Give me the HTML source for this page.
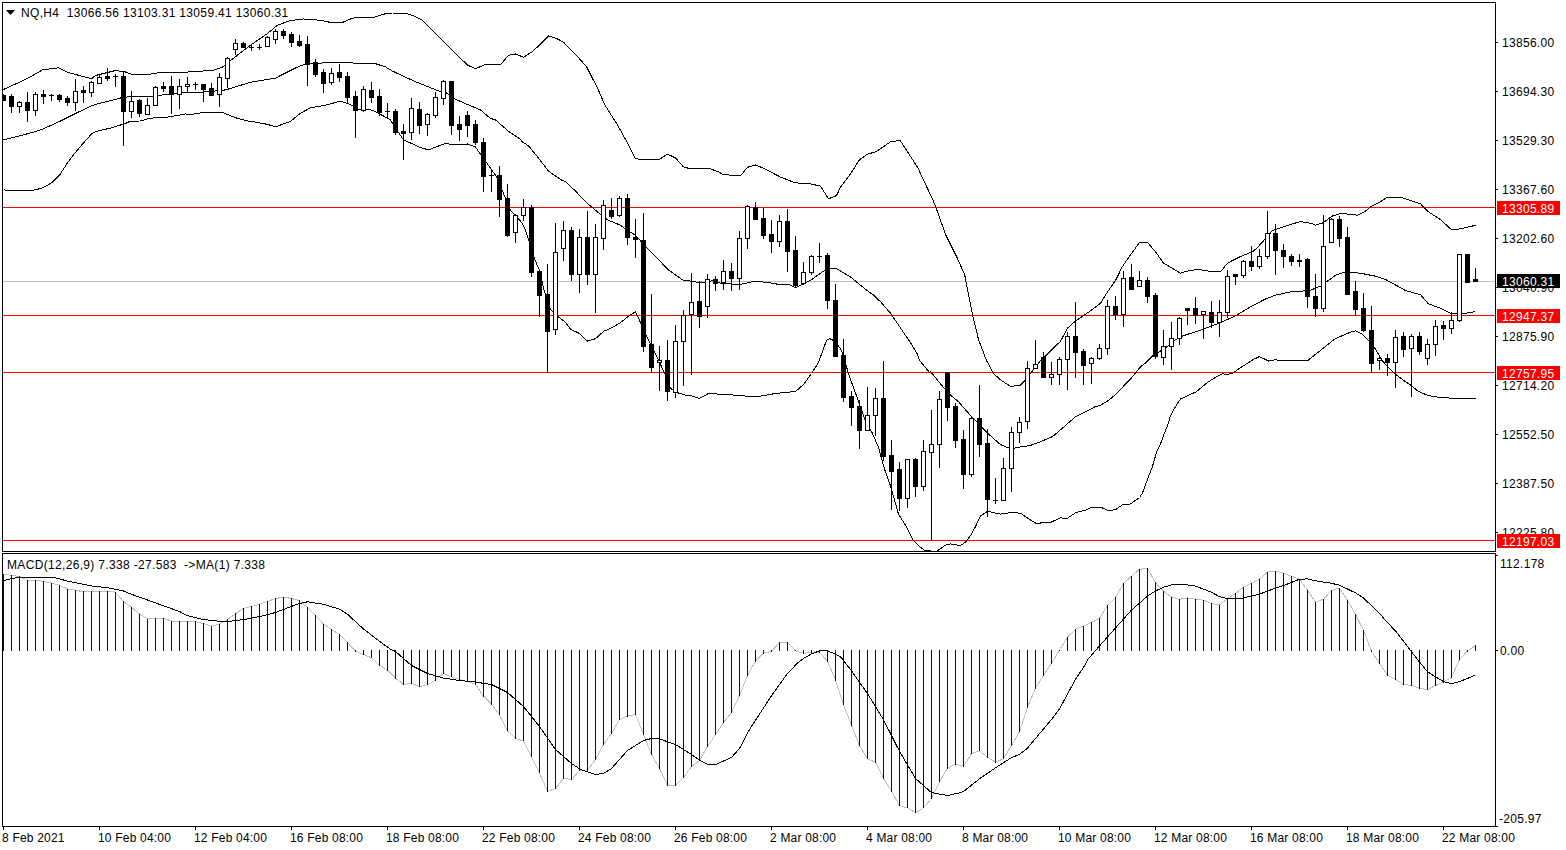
<!DOCTYPE html>
<html><head><meta charset="utf-8">
<style>
html,body{margin:0;padding:0;background:#fff;}
body{width:1566px;height:850px;position:relative;overflow:hidden;font-family:"Liberation Sans",sans-serif;font-size:12px;color:#000;}
svg{position:absolute;left:0;top:0;}
.pl{position:absolute;left:1502px;letter-spacing:0.3px;line-height:14px;height:14px;white-space:nowrap;}
.rl{position:absolute;left:1497px;width:63px;height:14px;line-height:16px;overflow:hidden;background:#FF0000;color:#fff;text-indent:5px;letter-spacing:0.3px;white-space:nowrap;}
.bl{position:absolute;left:1497px;width:63px;height:14px;line-height:16px;overflow:hidden;background:#000;color:#fff;text-indent:5px;letter-spacing:0.3px;white-space:nowrap;}
.tl{position:absolute;top:831px;letter-spacing:0.2px;line-height:14px;white-space:nowrap;}
.hdr{position:absolute;left:21px;top:6px;letter-spacing:0.33px;line-height:14px;white-space:pre;}
.ml{position:absolute;left:7px;top:558px;letter-spacing:0.33px;line-height:14px;white-space:pre;}
.ax{position:absolute;left:1500px;letter-spacing:0.3px;line-height:14px;white-space:nowrap;}
</style></head><body>
<svg width="1566" height="850" viewBox="0 0 1566 850" shape-rendering="crispEdges">
<defs><clipPath id="cm"><rect x="3" y="3" width="1492" height="548"/></clipPath><clipPath id="cd"><rect x="3" y="554" width="1492" height="272"/></clipPath></defs>
<g clip-path="url(#cm)"><rect x="3" y="207" width="1492" height="1" fill="#FF0000"/>
<rect x="3" y="315" width="1492" height="1" fill="#FF0000"/>
<rect x="3" y="372" width="1492" height="1" fill="#FF0000"/>
<rect x="3" y="540" width="1492" height="1" fill="#FF0000"/>
<rect x="3" y="281" width="1492" height="1" fill="#C0C0C0"/>
<polyline points="3.5,89.5 27.5,78.5 42.5,69.9 58.5,67.8 67.5,72.3 80.5,75.8 91.5,78.7 95.5,75.5 115.5,70.5 125.5,72.0 130.5,74.0 145.5,75.0 160.5,72.5 183.5,72.5 190.5,71.7 212.5,70.5 222.5,67.0 230.5,60.5 250.5,45.2 267.5,33.5 277.5,25.2 290.5,20.5 303.5,19.0 320.5,20.3 328.5,22.0 343.5,22.0 350.5,19.0 355.5,17.7 372.5,17.7 385.5,13.7 392.5,13.0 405.5,13.0 413.5,15.8 422.5,20.3 431.5,29.2 447.5,45.8 457.5,55.5 467.5,65.0 475.5,68.8 485.5,64.4 500.5,64.8 508.5,55.3 515.5,54.0 523.5,57.2 532.5,51.6 540.5,44.0 548.5,35.9 557.5,39.0 563.5,42.2 575.5,54.4 586.5,66.6 598.5,90.2 604.5,104.3 617.5,125.0 627.5,142.9 635.5,158.9 658.5,159.9 667.5,154.1 675.5,158.0 683.5,166.9 690.5,168.8 703.5,168.2 708.5,168.2 717.5,171.4 723.5,174.6 740.5,175.8 747.5,167.3 755.5,165.0 763.5,168.2 780.5,177.1 795.5,182.9 808.5,183.5 820.5,186.1 828.5,198.8 836.5,195.6 840.5,187.3 850.5,174.0 859.3,160.0 866.9,154.4 876.3,151.6 891.3,141.2 900.4,140.8 917.7,167.6 932.7,199.6 936.5,209.0 945.9,235.3 957.2,257.9 964.7,274.9 972.5,314.8 978.5,339.5 986.5,360.5 993.5,373.5 1000.5,379.9 1010.5,386.4 1020.5,385.2 1025.5,379.9 1030.5,373.5 1040.5,360.7 1050.5,351.0 1060.5,341.3 1067.5,328.1 1075.5,321.0 1083.5,315.8 1100.5,303.4 1107.5,291.9 1115.5,280.5 1122.5,266.4 1130.5,254.9 1139.5,242.5 1147.5,242.5 1155.5,251.7 1163.5,263.1 1180.5,273.2 1185.5,271.4 1195.5,269.7 1205.5,270.2 1210.5,271.9 1220.5,271.9 1227.5,263.1 1240.5,256.5 1253.5,251.2 1258.5,246.3 1265.5,238.7 1272.5,230.5 1282.5,227.2 1290.5,224.4 1300.5,221.6 1310.5,223.2 1315.5,225.1 1322.5,223.1 1332.5,216.0 1340.5,213.6 1352.5,214.4 1357.5,215.2 1364.5,211.9 1370.5,207.0 1380.5,201.7 1387.5,197.1 1400.5,197.1 1420.5,203.7 1427.5,211.2 1440.5,219.7 1451.5,229.7 1458.5,229.1 1467.5,227.2 1475.5,225.3" fill="none" stroke="#000" stroke-width="1"/>
<polyline points="3.5,139.9 35.5,131.7 43.5,128.7 59.5,121.5 75.5,113.5 91.5,105.8 95.5,104.5 120.5,98.0 130.5,96.5 150.5,96.5 165.5,94.5 180.5,92.5 190.5,92.9 210.5,91.5 225.5,89.9 250.5,82.3 275.5,78.1 290.5,70.5 300.5,65.6 305.5,64.4 327.5,62.5 350.5,62.5 355.5,63.7 375.5,63.7 385.5,66.9 392.5,71.1 410.5,79.5 415.5,81.7 440.5,91.7 445.5,92.3 455.5,99.3 470.5,105.8 480.5,109.9 490.5,118.4 495.5,119.9 508.5,131.3 520.5,139.3 522.5,142.0 528.5,145.8 538.5,158.1 540.5,160.8 548.5,171.1 558.5,178.1 560.5,179.6 565.5,181.7 575.5,191.1 585.5,201.7 592.5,207.8 601.5,215.2 607.5,219.9 620.5,225.2 626.5,229.9 635.5,235.2 646.5,247.5 668.5,269.9 682.5,279.9 685.5,280.3 700.5,282.7 715.5,280.3 720.5,283.5 740.5,284.4 755.5,281.1 775.5,283.5 777.5,284.6 789.5,284.6 795.5,287.8 805.5,282.9 811.5,279.9 818.5,274.6 825.5,269.9 830.5,268.5 836.5,268.5 850.5,277.0 865.5,289.3 873.5,295.1 880.5,301.7 890.5,313.2 900.5,328.0 910.5,342.8 917.5,354.4 919.5,360.5 929.5,372.3 930.5,371.5 945.5,389.9 950.5,395.2 958.5,401.7 965.5,409.9 972.5,417.5 980.5,425.8 990.5,435.8 1000.5,444.6 1010.5,448.7 1020.5,447.0 1030.5,445.4 1040.5,441.7 1052.5,436.6 1062.5,428.1 1075.5,416.7 1085.5,411.9 1094.5,407.0 1100.5,405.2 1108.5,400.5 1117.5,392.8 1125.5,384.0 1128.5,381.2 1130.5,379.2 1140.5,366.8 1146.5,362.2 1152.5,355.9 1153.5,355.7 1165.5,347.8 1175.5,339.8 1182.5,336.0 1200.5,330.1 1220.5,322.6 1235.5,315.8 1250.5,306.8 1265.5,299.0 1275.5,295.2 1290.5,291.9 1305.5,290.8 1310.5,290.2 1321.5,285.7 1327.5,281.1 1335.5,275.3 1342.5,272.9 1350.5,272.5 1360.5,273.2 1375.5,276.2 1385.5,279.5 1400.5,287.7 1405.5,290.5 1420.5,294.7 1428.5,303.9 1440.5,308.2 1450.5,313.1 1451.5,313.9 1460.5,313.9 1467.5,312.9 1475.5,311.6" fill="none" stroke="#000" stroke-width="1"/>
<polyline points="3.5,189.9 19.5,190.9 35.5,189.9 43.5,187.5 51.5,182.9 59.5,175.2 67.5,162.9 75.5,152.3 83.5,142.9 91.5,134.0 95.5,131.5 110.5,128.1 125.5,123.5 130.5,121.1 140.5,121.0 150.5,118.1 165.5,117.5 185.5,114.0 190.5,114.5 200.5,112.9 223.5,112.9 235.5,117.7 246.5,120.8 256.5,122.3 266.5,124.2 276.5,126.9 280.5,125.0 290.5,121.5 300.0,113.5 305.5,110.5 310.5,107.8 325.5,105.2 340.5,101.1 350.5,104.5 357.5,109.0 370.5,109.9 375.5,111.7 390.5,119.9 395.5,128.1 403.5,139.9 420.5,147.5 428.5,149.9 440.5,145.2 445.5,143.5 455.5,144.9 467.5,144.0 475.5,147.0 481.5,155.8 487.5,164.0 492.5,171.1 497.5,178.1 503.5,193.5 510.5,210.5 515.5,215.2 522.5,223.5 525.5,230.5 529.5,242.3 534.5,258.7 539.5,270.5 543.5,288.1 550.5,309.3 558.5,317.0 565.5,322.3 570.5,329.3 578.5,332.9 587.5,341.1 595.5,338.7 603.5,331.4 612.5,327.4 620.5,322.5 630.5,314.8 635.5,311.8 640.5,322.5 646.5,336.2 656.5,356.1 664.5,372.9 670.5,388.2 675.5,392.1 685.5,395.1 690.5,395.5 699.5,398.5 708.5,393.5 730.5,394.8 755.5,396.9 775.5,393.5 795.5,391.5 803.5,384.5 811.5,373.5 818.5,362.5 826.5,340.5 829.5,338.5 835.5,341.5 841.5,350.5 849.5,376.5 857.5,398.5 864.5,418.5 872.5,433.5 878.5,447.5 884.5,469.0 890.5,485.8 898.5,514.2 905.5,525.2 913.5,540.8 920.5,547.2 924.5,550.5 936.5,551.5 946.5,544.5 950.5,544.0 960.5,545.6 965.5,542.1 970.5,535.7 975.5,526.5 980.5,516.0 987.5,511.3 1000.5,514.1 1010.5,512.7 1020.5,513.1 1028.5,518.8 1035.5,523.0 1040.5,523.0 1050.5,522.5 1060.5,517.7 1066.5,518.9 1075.5,512.8 1085.5,510.1 1092.5,507.1 1100.5,507.1 1108.5,510.7 1115.5,509.6 1122.5,504.8 1130.5,504.0 1139.5,497.5 1142.5,492.9 1147.5,479.3 1152.5,466.4 1156.5,452.3 1160.5,444.0 1164.5,432.9 1168.5,422.9 1170.5,415.6 1176.5,404.8 1180.5,399.0 1196.5,391.6 1207.5,382.4 1215.5,377.3 1222.5,373.7 1226.5,374.5 1232.5,373.2 1240.5,367.7 1253.5,359.4 1259.5,356.6 1268.5,361.0 1275.5,359.7 1280.5,360.7 1307.5,360.7 1335.5,338.5 1350.5,332.2 1355.5,330.8 1362.5,334.3 1368.5,340.6 1375.5,349.1 1382.5,361.1 1390.5,369.6 1398.5,376.7 1410.5,385.1 1418.5,391.5 1428.5,395.7 1440.5,397.5 1450.5,398.1 1475.5,398.0" fill="none" stroke="#000" stroke-width="1"/>
<rect x="3" y="94" width="1" height="7" fill="#000"/>
<rect x="1" y="95" width="5" height="6" fill="#000"/>
<rect x="11" y="94" width="1" height="19" fill="#000"/>
<rect x="9" y="96" width="5" height="11" fill="#000"/>
<rect x="19" y="101" width="1" height="12" fill="#000"/>
<rect x="17" y="102" width="5" height="5" fill="#000"/>
<rect x="18" y="103" width="3" height="3" fill="#FFF"/>
<rect x="27" y="92" width="1" height="30" fill="#000"/>
<rect x="25" y="102" width="5" height="9" fill="#000"/>
<rect x="35" y="92" width="1" height="24" fill="#000"/>
<rect x="33" y="94" width="5" height="17" fill="#000"/>
<rect x="34" y="95" width="3" height="15" fill="#FFF"/>
<rect x="43" y="90" width="1" height="14" fill="#000"/>
<rect x="41" y="94" width="5" height="3" fill="#000"/>
<rect x="51" y="94" width="1" height="7" fill="#000"/>
<rect x="49" y="95" width="5" height="1" fill="#000"/>
<rect x="59" y="94" width="1" height="8" fill="#000"/>
<rect x="57" y="95" width="5" height="5" fill="#000"/>
<rect x="67" y="96" width="1" height="10" fill="#000"/>
<rect x="65" y="98" width="5" height="5" fill="#000"/>
<rect x="75" y="79" width="1" height="32" fill="#000"/>
<rect x="73" y="91" width="5" height="12" fill="#000"/>
<rect x="74" y="92" width="3" height="10" fill="#FFF"/>
<rect x="83" y="86" width="1" height="17" fill="#000"/>
<rect x="81" y="90" width="5" height="3" fill="#000"/>
<rect x="91" y="81" width="1" height="16" fill="#000"/>
<rect x="89" y="82" width="5" height="11" fill="#000"/>
<rect x="90" y="83" width="3" height="9" fill="#FFF"/>
<rect x="99" y="75" width="1" height="9" fill="#000"/>
<rect x="97" y="77" width="5" height="7" fill="#000"/>
<rect x="98" y="78" width="3" height="5" fill="#FFF"/>
<rect x="107" y="68" width="1" height="13" fill="#000"/>
<rect x="105" y="76" width="5" height="3" fill="#000"/>
<rect x="115" y="74" width="1" height="13" fill="#000"/>
<rect x="113" y="76" width="5" height="1" fill="#000"/>
<rect x="123" y="71" width="1" height="75" fill="#000"/>
<rect x="121" y="76" width="5" height="36" fill="#000"/>
<rect x="131" y="91" width="1" height="27" fill="#000"/>
<rect x="129" y="101" width="5" height="11" fill="#000"/>
<rect x="130" y="102" width="3" height="9" fill="#FFF"/>
<rect x="139" y="99" width="1" height="18" fill="#000"/>
<rect x="137" y="100" width="5" height="14" fill="#000"/>
<rect x="147" y="98" width="1" height="17" fill="#000"/>
<rect x="145" y="105" width="5" height="10" fill="#000"/>
<rect x="146" y="106" width="3" height="8" fill="#FFF"/>
<rect x="155" y="86" width="1" height="20" fill="#000"/>
<rect x="153" y="87" width="5" height="19" fill="#000"/>
<rect x="154" y="88" width="3" height="17" fill="#FFF"/>
<rect x="163" y="82" width="1" height="10" fill="#000"/>
<rect x="161" y="86" width="5" height="3" fill="#000"/>
<rect x="171" y="76" width="1" height="38" fill="#000"/>
<rect x="169" y="86" width="5" height="9" fill="#000"/>
<rect x="179" y="79" width="1" height="30" fill="#000"/>
<rect x="177" y="86" width="5" height="9" fill="#000"/>
<rect x="178" y="87" width="3" height="7" fill="#FFF"/>
<rect x="187" y="77" width="1" height="15" fill="#000"/>
<rect x="185" y="84" width="5" height="3" fill="#000"/>
<rect x="186" y="85" width="3" height="1" fill="#FFF"/>
<rect x="195" y="82" width="1" height="8" fill="#000"/>
<rect x="193" y="84" width="5" height="1" fill="#000"/>
<rect x="203" y="84" width="1" height="18" fill="#000"/>
<rect x="201" y="84" width="5" height="6" fill="#000"/>
<rect x="211" y="83" width="1" height="13" fill="#000"/>
<rect x="209" y="88" width="5" height="8" fill="#000"/>
<rect x="219" y="73" width="1" height="34" fill="#000"/>
<rect x="217" y="77" width="5" height="18" fill="#000"/>
<rect x="218" y="78" width="3" height="16" fill="#FFF"/>
<rect x="227" y="57" width="1" height="31" fill="#000"/>
<rect x="225" y="58" width="5" height="21" fill="#000"/>
<rect x="226" y="59" width="3" height="19" fill="#FFF"/>
<rect x="235" y="39" width="1" height="16" fill="#000"/>
<rect x="233" y="43" width="5" height="7" fill="#000"/>
<rect x="234" y="44" width="3" height="5" fill="#FFF"/>
<rect x="243" y="42" width="1" height="6" fill="#000"/>
<rect x="241" y="43" width="5" height="5" fill="#000"/>
<rect x="251" y="44" width="1" height="7" fill="#000"/>
<rect x="249" y="47" width="5" height="1" fill="#000"/>
<rect x="259" y="44" width="1" height="6" fill="#000"/>
<rect x="257" y="47" width="5" height="1" fill="#000"/>
<rect x="267" y="36" width="1" height="11" fill="#000"/>
<rect x="265" y="37" width="5" height="10" fill="#000"/>
<rect x="266" y="38" width="3" height="8" fill="#FFF"/>
<rect x="275" y="29" width="1" height="15" fill="#000"/>
<rect x="273" y="31" width="5" height="9" fill="#000"/>
<rect x="274" y="32" width="3" height="7" fill="#FFF"/>
<rect x="283" y="29" width="1" height="10" fill="#000"/>
<rect x="281" y="31" width="5" height="5" fill="#000"/>
<rect x="291" y="32" width="1" height="15" fill="#000"/>
<rect x="289" y="34" width="5" height="9" fill="#000"/>
<rect x="299" y="35" width="1" height="12" fill="#000"/>
<rect x="297" y="41" width="5" height="5" fill="#000"/>
<rect x="307" y="36" width="1" height="50" fill="#000"/>
<rect x="305" y="44" width="5" height="21" fill="#000"/>
<rect x="315" y="59" width="1" height="18" fill="#000"/>
<rect x="313" y="62" width="5" height="13" fill="#000"/>
<rect x="323" y="69" width="1" height="24" fill="#000"/>
<rect x="321" y="72" width="5" height="12" fill="#000"/>
<rect x="331" y="68" width="1" height="17" fill="#000"/>
<rect x="329" y="73" width="5" height="10" fill="#000"/>
<rect x="330" y="74" width="3" height="8" fill="#FFF"/>
<rect x="339" y="64" width="1" height="18" fill="#000"/>
<rect x="337" y="72" width="5" height="6" fill="#000"/>
<rect x="347" y="72" width="1" height="31" fill="#000"/>
<rect x="345" y="76" width="5" height="22" fill="#000"/>
<rect x="355" y="91" width="1" height="47" fill="#000"/>
<rect x="353" y="96" width="5" height="15" fill="#000"/>
<rect x="363" y="86" width="1" height="26" fill="#000"/>
<rect x="361" y="89" width="5" height="22" fill="#000"/>
<rect x="362" y="90" width="3" height="20" fill="#FFF"/>
<rect x="371" y="82" width="1" height="21" fill="#000"/>
<rect x="369" y="90" width="5" height="8" fill="#000"/>
<rect x="379" y="89" width="1" height="27" fill="#000"/>
<rect x="377" y="96" width="5" height="17" fill="#000"/>
<rect x="387" y="103" width="1" height="16" fill="#000"/>
<rect x="385" y="111" width="5" height="1" fill="#000"/>
<rect x="395" y="109" width="1" height="26" fill="#000"/>
<rect x="393" y="111" width="5" height="22" fill="#000"/>
<rect x="403" y="124" width="1" height="36" fill="#000"/>
<rect x="401" y="131" width="5" height="3" fill="#000"/>
<rect x="411" y="98" width="1" height="42" fill="#000"/>
<rect x="409" y="108" width="5" height="25" fill="#000"/>
<rect x="410" y="109" width="3" height="23" fill="#FFF"/>
<rect x="419" y="102" width="1" height="32" fill="#000"/>
<rect x="417" y="109" width="5" height="17" fill="#000"/>
<rect x="427" y="113" width="1" height="23" fill="#000"/>
<rect x="425" y="114" width="5" height="11" fill="#000"/>
<rect x="426" y="115" width="3" height="9" fill="#FFF"/>
<rect x="435" y="92" width="1" height="26" fill="#000"/>
<rect x="433" y="97" width="5" height="19" fill="#000"/>
<rect x="434" y="98" width="3" height="17" fill="#FFF"/>
<rect x="443" y="80" width="1" height="25" fill="#000"/>
<rect x="441" y="81" width="5" height="18" fill="#000"/>
<rect x="442" y="82" width="3" height="16" fill="#FFF"/>
<rect x="451" y="81" width="1" height="54" fill="#000"/>
<rect x="449" y="81" width="5" height="45" fill="#000"/>
<rect x="459" y="116" width="1" height="25" fill="#000"/>
<rect x="457" y="124" width="5" height="6" fill="#000"/>
<rect x="467" y="111" width="1" height="26" fill="#000"/>
<rect x="465" y="115" width="5" height="11" fill="#000"/>
<rect x="475" y="120" width="1" height="25" fill="#000"/>
<rect x="473" y="124" width="5" height="19" fill="#000"/>
<rect x="483" y="138" width="1" height="54" fill="#000"/>
<rect x="481" y="142" width="5" height="35" fill="#000"/>
<rect x="491" y="170" width="1" height="22" fill="#000"/>
<rect x="489" y="175" width="5" height="1" fill="#000"/>
<rect x="499" y="166" width="1" height="51" fill="#000"/>
<rect x="497" y="175" width="5" height="25" fill="#000"/>
<rect x="507" y="184" width="1" height="53" fill="#000"/>
<rect x="505" y="198" width="5" height="38" fill="#000"/>
<rect x="515" y="214" width="1" height="29" fill="#000"/>
<rect x="513" y="215" width="5" height="18" fill="#000"/>
<rect x="514" y="216" width="3" height="16" fill="#FFF"/>
<rect x="523" y="199" width="1" height="22" fill="#000"/>
<rect x="521" y="207" width="5" height="9" fill="#000"/>
<rect x="522" y="208" width="3" height="7" fill="#FFF"/>
<rect x="531" y="205" width="1" height="72" fill="#000"/>
<rect x="529" y="207" width="5" height="66" fill="#000"/>
<rect x="539" y="269" width="1" height="48" fill="#000"/>
<rect x="537" y="271" width="5" height="25" fill="#000"/>
<rect x="547" y="264" width="1" height="109" fill="#000"/>
<rect x="545" y="294" width="5" height="38" fill="#000"/>
<rect x="555" y="223" width="1" height="112" fill="#000"/>
<rect x="553" y="252" width="5" height="78" fill="#000"/>
<rect x="554" y="253" width="3" height="76" fill="#FFF"/>
<rect x="563" y="221" width="1" height="40" fill="#000"/>
<rect x="561" y="230" width="5" height="19" fill="#000"/>
<rect x="562" y="231" width="3" height="17" fill="#FFF"/>
<rect x="571" y="227" width="1" height="54" fill="#000"/>
<rect x="569" y="230" width="5" height="45" fill="#000"/>
<rect x="579" y="229" width="1" height="64" fill="#000"/>
<rect x="577" y="237" width="5" height="38" fill="#000"/>
<rect x="578" y="238" width="3" height="36" fill="#FFF"/>
<rect x="587" y="211" width="1" height="74" fill="#000"/>
<rect x="585" y="237" width="5" height="38" fill="#000"/>
<rect x="595" y="224" width="1" height="89" fill="#000"/>
<rect x="593" y="237" width="5" height="38" fill="#000"/>
<rect x="594" y="238" width="3" height="36" fill="#FFF"/>
<rect x="603" y="200" width="1" height="50" fill="#000"/>
<rect x="601" y="205" width="5" height="34" fill="#000"/>
<rect x="602" y="206" width="3" height="32" fill="#FFF"/>
<rect x="611" y="198" width="1" height="21" fill="#000"/>
<rect x="609" y="210" width="5" height="7" fill="#000"/>
<rect x="619" y="196" width="1" height="21" fill="#000"/>
<rect x="617" y="198" width="5" height="18" fill="#000"/>
<rect x="618" y="199" width="3" height="16" fill="#FFF"/>
<rect x="627" y="194" width="1" height="51" fill="#000"/>
<rect x="625" y="198" width="5" height="40" fill="#000"/>
<rect x="635" y="219" width="1" height="39" fill="#000"/>
<rect x="633" y="237" width="5" height="3" fill="#000"/>
<rect x="643" y="213" width="1" height="139" fill="#000"/>
<rect x="641" y="240" width="5" height="107" fill="#000"/>
<rect x="651" y="294" width="1" height="79" fill="#000"/>
<rect x="649" y="344" width="5" height="24" fill="#000"/>
<rect x="659" y="346" width="1" height="45" fill="#000"/>
<rect x="657" y="360" width="5" height="3" fill="#000"/>
<rect x="658" y="361" width="3" height="1" fill="#FFF"/>
<rect x="667" y="340" width="1" height="61" fill="#000"/>
<rect x="665" y="360" width="5" height="32" fill="#000"/>
<rect x="675" y="325" width="1" height="73" fill="#000"/>
<rect x="673" y="341" width="5" height="52" fill="#000"/>
<rect x="674" y="342" width="3" height="50" fill="#FFF"/>
<rect x="683" y="310" width="1" height="76" fill="#000"/>
<rect x="681" y="315" width="5" height="27" fill="#000"/>
<rect x="682" y="316" width="3" height="25" fill="#FFF"/>
<rect x="691" y="273" width="1" height="102" fill="#000"/>
<rect x="689" y="302" width="5" height="13" fill="#000"/>
<rect x="690" y="303" width="3" height="11" fill="#FFF"/>
<rect x="699" y="281" width="1" height="47" fill="#000"/>
<rect x="697" y="301" width="5" height="16" fill="#000"/>
<rect x="707" y="274" width="1" height="44" fill="#000"/>
<rect x="705" y="279" width="5" height="28" fill="#000"/>
<rect x="706" y="280" width="3" height="26" fill="#FFF"/>
<rect x="715" y="276" width="1" height="15" fill="#000"/>
<rect x="713" y="279" width="5" height="5" fill="#000"/>
<rect x="723" y="260" width="1" height="30" fill="#000"/>
<rect x="721" y="271" width="5" height="12" fill="#000"/>
<rect x="722" y="272" width="3" height="10" fill="#FFF"/>
<rect x="731" y="263" width="1" height="28" fill="#000"/>
<rect x="729" y="271" width="5" height="8" fill="#000"/>
<rect x="739" y="231" width="1" height="59" fill="#000"/>
<rect x="737" y="238" width="5" height="41" fill="#000"/>
<rect x="738" y="239" width="3" height="39" fill="#FFF"/>
<rect x="747" y="205" width="1" height="44" fill="#000"/>
<rect x="745" y="206" width="5" height="33" fill="#000"/>
<rect x="746" y="207" width="3" height="31" fill="#FFF"/>
<rect x="755" y="202" width="1" height="18" fill="#000"/>
<rect x="753" y="207" width="5" height="13" fill="#000"/>
<rect x="763" y="208" width="1" height="31" fill="#000"/>
<rect x="761" y="218" width="5" height="18" fill="#000"/>
<rect x="771" y="220" width="1" height="33" fill="#000"/>
<rect x="769" y="234" width="5" height="8" fill="#000"/>
<rect x="779" y="215" width="1" height="32" fill="#000"/>
<rect x="777" y="221" width="5" height="21" fill="#000"/>
<rect x="778" y="222" width="3" height="19" fill="#FFF"/>
<rect x="787" y="209" width="1" height="63" fill="#000"/>
<rect x="785" y="221" width="5" height="31" fill="#000"/>
<rect x="795" y="236" width="1" height="52" fill="#000"/>
<rect x="793" y="250" width="5" height="36" fill="#000"/>
<rect x="803" y="262" width="1" height="23" fill="#000"/>
<rect x="801" y="272" width="5" height="12" fill="#000"/>
<rect x="802" y="273" width="3" height="10" fill="#FFF"/>
<rect x="811" y="255" width="1" height="20" fill="#000"/>
<rect x="809" y="256" width="5" height="17" fill="#000"/>
<rect x="810" y="257" width="3" height="15" fill="#FFF"/>
<rect x="819" y="243" width="1" height="20" fill="#000"/>
<rect x="817" y="256" width="5" height="1" fill="#000"/>
<rect x="827" y="253" width="1" height="56" fill="#000"/>
<rect x="825" y="255" width="5" height="46" fill="#000"/>
<rect x="835" y="284" width="1" height="73" fill="#000"/>
<rect x="833" y="300" width="5" height="57" fill="#000"/>
<rect x="843" y="339" width="1" height="63" fill="#000"/>
<rect x="841" y="355" width="5" height="43" fill="#000"/>
<rect x="851" y="391" width="1" height="35" fill="#000"/>
<rect x="849" y="396" width="5" height="12" fill="#000"/>
<rect x="859" y="400" width="1" height="49" fill="#000"/>
<rect x="857" y="406" width="5" height="25" fill="#000"/>
<rect x="867" y="387" width="1" height="44" fill="#000"/>
<rect x="865" y="415" width="5" height="16" fill="#000"/>
<rect x="866" y="416" width="3" height="14" fill="#FFF"/>
<rect x="875" y="388" width="1" height="48" fill="#000"/>
<rect x="873" y="398" width="5" height="18" fill="#000"/>
<rect x="874" y="399" width="3" height="16" fill="#FFF"/>
<rect x="883" y="361" width="1" height="100" fill="#000"/>
<rect x="881" y="398" width="5" height="59" fill="#000"/>
<rect x="891" y="440" width="1" height="70" fill="#000"/>
<rect x="889" y="455" width="5" height="17" fill="#000"/>
<rect x="899" y="462" width="1" height="49" fill="#000"/>
<rect x="897" y="469" width="5" height="30" fill="#000"/>
<rect x="907" y="459" width="1" height="49" fill="#000"/>
<rect x="905" y="459" width="5" height="40" fill="#000"/>
<rect x="906" y="460" width="3" height="38" fill="#FFF"/>
<rect x="915" y="458" width="1" height="39" fill="#000"/>
<rect x="913" y="459" width="5" height="28" fill="#000"/>
<rect x="923" y="440" width="1" height="51" fill="#000"/>
<rect x="921" y="451" width="5" height="36" fill="#000"/>
<rect x="922" y="452" width="3" height="34" fill="#FFF"/>
<rect x="931" y="410" width="1" height="130" fill="#000"/>
<rect x="929" y="444" width="5" height="9" fill="#000"/>
<rect x="930" y="445" width="3" height="7" fill="#FFF"/>
<rect x="939" y="391" width="1" height="77" fill="#000"/>
<rect x="937" y="399" width="5" height="46" fill="#000"/>
<rect x="938" y="400" width="3" height="44" fill="#FFF"/>
<rect x="947" y="372" width="1" height="49" fill="#000"/>
<rect x="945" y="372" width="5" height="36" fill="#000"/>
<rect x="955" y="403" width="1" height="45" fill="#000"/>
<rect x="953" y="406" width="5" height="35" fill="#000"/>
<rect x="963" y="430" width="1" height="59" fill="#000"/>
<rect x="961" y="439" width="5" height="36" fill="#000"/>
<rect x="971" y="417" width="1" height="60" fill="#000"/>
<rect x="969" y="418" width="5" height="57" fill="#000"/>
<rect x="970" y="419" width="3" height="55" fill="#FFF"/>
<rect x="979" y="385" width="1" height="72" fill="#000"/>
<rect x="977" y="418" width="5" height="27" fill="#000"/>
<rect x="987" y="429" width="1" height="88" fill="#000"/>
<rect x="985" y="443" width="5" height="57" fill="#000"/>
<rect x="995" y="478" width="1" height="26" fill="#000"/>
<rect x="993" y="500" width="5" height="1" fill="#000"/>
<rect x="1003" y="458" width="1" height="43" fill="#000"/>
<rect x="1001" y="468" width="5" height="33" fill="#000"/>
<rect x="1002" y="469" width="3" height="31" fill="#FFF"/>
<rect x="1011" y="427" width="1" height="65" fill="#000"/>
<rect x="1009" y="432" width="5" height="37" fill="#000"/>
<rect x="1010" y="433" width="3" height="35" fill="#FFF"/>
<rect x="1019" y="417" width="1" height="26" fill="#000"/>
<rect x="1017" y="422" width="5" height="11" fill="#000"/>
<rect x="1018" y="423" width="3" height="9" fill="#FFF"/>
<rect x="1027" y="361" width="1" height="68" fill="#000"/>
<rect x="1025" y="368" width="5" height="54" fill="#000"/>
<rect x="1026" y="369" width="3" height="52" fill="#FFF"/>
<rect x="1035" y="340" width="1" height="29" fill="#000"/>
<rect x="1033" y="364" width="5" height="5" fill="#000"/>
<rect x="1034" y="365" width="3" height="3" fill="#FFF"/>
<rect x="1043" y="352" width="1" height="26" fill="#000"/>
<rect x="1041" y="357" width="5" height="21" fill="#000"/>
<rect x="1051" y="362" width="1" height="23" fill="#000"/>
<rect x="1049" y="374" width="5" height="4" fill="#000"/>
<rect x="1050" y="375" width="3" height="2" fill="#FFF"/>
<rect x="1059" y="357" width="1" height="28" fill="#000"/>
<rect x="1057" y="359" width="5" height="16" fill="#000"/>
<rect x="1058" y="360" width="3" height="14" fill="#FFF"/>
<rect x="1067" y="332" width="1" height="58" fill="#000"/>
<rect x="1065" y="336" width="5" height="24" fill="#000"/>
<rect x="1066" y="337" width="3" height="22" fill="#FFF"/>
<rect x="1075" y="302" width="1" height="76" fill="#000"/>
<rect x="1073" y="336" width="5" height="17" fill="#000"/>
<rect x="1083" y="349" width="1" height="36" fill="#000"/>
<rect x="1081" y="351" width="5" height="15" fill="#000"/>
<rect x="1091" y="357" width="1" height="27" fill="#000"/>
<rect x="1089" y="358" width="5" height="6" fill="#000"/>
<rect x="1090" y="359" width="3" height="4" fill="#FFF"/>
<rect x="1099" y="344" width="1" height="16" fill="#000"/>
<rect x="1097" y="348" width="5" height="11" fill="#000"/>
<rect x="1098" y="349" width="3" height="9" fill="#FFF"/>
<rect x="1107" y="300" width="1" height="55" fill="#000"/>
<rect x="1105" y="306" width="5" height="43" fill="#000"/>
<rect x="1106" y="307" width="3" height="41" fill="#FFF"/>
<rect x="1115" y="296" width="1" height="24" fill="#000"/>
<rect x="1113" y="306" width="5" height="9" fill="#000"/>
<rect x="1123" y="271" width="1" height="56" fill="#000"/>
<rect x="1121" y="278" width="5" height="37" fill="#000"/>
<rect x="1122" y="279" width="3" height="35" fill="#FFF"/>
<rect x="1131" y="264" width="1" height="26" fill="#000"/>
<rect x="1129" y="277" width="5" height="13" fill="#000"/>
<rect x="1139" y="271" width="1" height="16" fill="#000"/>
<rect x="1137" y="280" width="5" height="7" fill="#000"/>
<rect x="1138" y="281" width="3" height="5" fill="#FFF"/>
<rect x="1147" y="277" width="1" height="26" fill="#000"/>
<rect x="1145" y="280" width="5" height="17" fill="#000"/>
<rect x="1155" y="293" width="1" height="66" fill="#000"/>
<rect x="1153" y="295" width="5" height="62" fill="#000"/>
<rect x="1163" y="330" width="1" height="35" fill="#000"/>
<rect x="1161" y="346" width="5" height="12" fill="#000"/>
<rect x="1162" y="347" width="3" height="10" fill="#FFF"/>
<rect x="1171" y="322" width="1" height="48" fill="#000"/>
<rect x="1169" y="338" width="5" height="9" fill="#000"/>
<rect x="1170" y="339" width="3" height="7" fill="#FFF"/>
<rect x="1179" y="317" width="1" height="28" fill="#000"/>
<rect x="1177" y="318" width="5" height="21" fill="#000"/>
<rect x="1178" y="319" width="3" height="19" fill="#FFF"/>
<rect x="1187" y="308" width="1" height="17" fill="#000"/>
<rect x="1185" y="308" width="5" height="3" fill="#000"/>
<rect x="1195" y="297" width="1" height="27" fill="#000"/>
<rect x="1193" y="308" width="5" height="8" fill="#000"/>
<rect x="1203" y="311" width="1" height="28" fill="#000"/>
<rect x="1201" y="311" width="5" height="4" fill="#000"/>
<rect x="1202" y="312" width="3" height="2" fill="#FFF"/>
<rect x="1211" y="301" width="1" height="27" fill="#000"/>
<rect x="1209" y="312" width="5" height="11" fill="#000"/>
<rect x="1219" y="300" width="1" height="37" fill="#000"/>
<rect x="1217" y="312" width="5" height="11" fill="#000"/>
<rect x="1218" y="313" width="3" height="9" fill="#FFF"/>
<rect x="1227" y="270" width="1" height="48" fill="#000"/>
<rect x="1225" y="276" width="5" height="37" fill="#000"/>
<rect x="1226" y="277" width="3" height="35" fill="#FFF"/>
<rect x="1235" y="274" width="1" height="11" fill="#000"/>
<rect x="1233" y="274" width="5" height="3" fill="#000"/>
<rect x="1243" y="260" width="1" height="18" fill="#000"/>
<rect x="1241" y="261" width="5" height="15" fill="#000"/>
<rect x="1242" y="262" width="3" height="13" fill="#FFF"/>
<rect x="1251" y="246" width="1" height="25" fill="#000"/>
<rect x="1249" y="261" width="5" height="6" fill="#000"/>
<rect x="1259" y="249" width="1" height="20" fill="#000"/>
<rect x="1257" y="256" width="5" height="11" fill="#000"/>
<rect x="1258" y="257" width="3" height="9" fill="#FFF"/>
<rect x="1267" y="211" width="1" height="48" fill="#000"/>
<rect x="1265" y="233" width="5" height="24" fill="#000"/>
<rect x="1266" y="234" width="3" height="22" fill="#FFF"/>
<rect x="1275" y="224" width="1" height="51" fill="#000"/>
<rect x="1273" y="233" width="5" height="18" fill="#000"/>
<rect x="1283" y="244" width="1" height="24" fill="#000"/>
<rect x="1281" y="250" width="5" height="7" fill="#000"/>
<rect x="1291" y="254" width="1" height="12" fill="#000"/>
<rect x="1289" y="256" width="5" height="6" fill="#000"/>
<rect x="1299" y="254" width="1" height="13" fill="#000"/>
<rect x="1297" y="260" width="5" height="2" fill="#000"/>
<rect x="1307" y="258" width="1" height="50" fill="#000"/>
<rect x="1305" y="259" width="5" height="38" fill="#000"/>
<rect x="1315" y="274" width="1" height="43" fill="#000"/>
<rect x="1313" y="296" width="5" height="13" fill="#000"/>
<rect x="1323" y="215" width="1" height="97" fill="#000"/>
<rect x="1321" y="246" width="5" height="63" fill="#000"/>
<rect x="1322" y="247" width="3" height="61" fill="#FFF"/>
<rect x="1331" y="218" width="1" height="25" fill="#000"/>
<rect x="1329" y="219" width="5" height="24" fill="#000"/>
<rect x="1330" y="220" width="3" height="22" fill="#FFF"/>
<rect x="1339" y="216" width="1" height="31" fill="#000"/>
<rect x="1337" y="219" width="5" height="20" fill="#000"/>
<rect x="1347" y="227" width="1" height="68" fill="#000"/>
<rect x="1345" y="237" width="5" height="58" fill="#000"/>
<rect x="1355" y="281" width="1" height="35" fill="#000"/>
<rect x="1353" y="291" width="5" height="19" fill="#000"/>
<rect x="1363" y="293" width="1" height="39" fill="#000"/>
<rect x="1361" y="308" width="5" height="23" fill="#000"/>
<rect x="1371" y="306" width="1" height="67" fill="#000"/>
<rect x="1369" y="330" width="5" height="34" fill="#000"/>
<rect x="1379" y="356" width="1" height="14" fill="#000"/>
<rect x="1377" y="358" width="5" height="3" fill="#000"/>
<rect x="1378" y="359" width="3" height="1" fill="#FFF"/>
<rect x="1387" y="354" width="1" height="22" fill="#000"/>
<rect x="1385" y="358" width="5" height="5" fill="#000"/>
<rect x="1395" y="330" width="1" height="58" fill="#000"/>
<rect x="1393" y="337" width="5" height="26" fill="#000"/>
<rect x="1394" y="338" width="3" height="24" fill="#FFF"/>
<rect x="1403" y="332" width="1" height="25" fill="#000"/>
<rect x="1401" y="336" width="5" height="14" fill="#000"/>
<rect x="1411" y="334" width="1" height="63" fill="#000"/>
<rect x="1409" y="336" width="5" height="13" fill="#000"/>
<rect x="1410" y="337" width="3" height="11" fill="#FFF"/>
<rect x="1419" y="332" width="1" height="23" fill="#000"/>
<rect x="1417" y="336" width="5" height="16" fill="#000"/>
<rect x="1427" y="339" width="1" height="26" fill="#000"/>
<rect x="1425" y="344" width="5" height="15" fill="#000"/>
<rect x="1426" y="345" width="3" height="13" fill="#FFF"/>
<rect x="1435" y="320" width="1" height="36" fill="#000"/>
<rect x="1433" y="326" width="5" height="19" fill="#000"/>
<rect x="1434" y="327" width="3" height="17" fill="#FFF"/>
<rect x="1443" y="321" width="1" height="19" fill="#000"/>
<rect x="1441" y="325" width="5" height="4" fill="#000"/>
<rect x="1451" y="312" width="1" height="22" fill="#000"/>
<rect x="1449" y="320" width="5" height="9" fill="#000"/>
<rect x="1450" y="321" width="3" height="7" fill="#FFF"/>
<rect x="1459" y="254" width="1" height="68" fill="#000"/>
<rect x="1457" y="254" width="5" height="67" fill="#000"/>
<rect x="1458" y="255" width="3" height="65" fill="#FFF"/>
<rect x="1467" y="254" width="1" height="29" fill="#000"/>
<rect x="1465" y="254" width="5" height="29" fill="#000"/>
<rect x="1475" y="268" width="1" height="14" fill="#000"/>
<rect x="1473" y="279" width="5" height="3" fill="#000"/></g>
<g clip-path="url(#cd)"><polyline points="3.5,574.5 11.5,575.3 19.5,576.5 27.5,580.3 35.5,580.3 43.5,581.4 51.5,583.2 59.5,585.2 67.5,589.0 75.5,590.2 83.5,591.8 91.5,591.8 99.5,591.0 107.5,591.0 115.5,592.3 123.5,601.4 131.5,607.5 139.5,614.0 147.5,619.0 155.5,618.2 163.5,618.2 171.5,621.1 179.5,621.1 187.5,621.1 195.5,621.6 203.5,623.5 211.5,626.2 219.5,624.0 227.5,619.6 235.5,613.7 243.5,608.4 251.5,606.4 259.5,604.3 267.5,601.5 275.5,598.5 283.5,597.2 291.5,598.5 299.5,600.5 307.5,607.6 315.5,615.3 323.5,624.0 331.5,629.5 339.5,634.4 347.5,642.7 355.5,651.0 363.5,654.5 371.5,657.8 379.5,665.2 387.5,670.1 395.5,678.1 403.5,684.5 411.5,683.5 419.5,686.5 427.5,684.9 435.5,680.1 443.5,673.5 451.5,676.9 459.5,679.5 467.5,681.5 475.5,684.1 483.5,696.1 491.5,704.1 499.5,714.9 507.5,730.9 515.5,738.5 523.5,740.9 531.5,756.9 539.5,772.9 547.5,791.5 555.5,788.5 563.5,778.5 571.5,779.5 579.5,770.5 587.5,770.1 595.5,759.5 603.5,744.5 611.5,733.5 619.5,719.5 627.5,716.1 635.5,714.5 643.5,734.5 651.5,754.5 659.5,768.5 667.5,785.5 675.5,785.5 683.5,777.5 691.5,766.5 699.5,760.5 707.5,746.5 715.5,734.5 723.5,722.5 731.5,712.5 739.5,695.5 747.5,675.5 755.5,661.1 763.5,653.2 771.5,651.5 779.5,642.3 787.5,642.3 795.5,650.9 803.5,653.2 811.5,652.5 819.5,652.5 827.5,661.1 835.5,680.1 843.5,704.9 851.5,725.2 859.5,745.8 867.5,758.9 875.5,762.2 883.5,778.1 891.5,791.1 899.5,805.7 907.5,807.9 915.5,812.9 923.5,807.9 931.5,798.5 939.5,781.8 947.5,768.0 955.5,764.3 963.5,766.1 971.5,753.8 979.5,750.8 987.5,757.2 995.5,762.3 1003.5,758.7 1011.5,745.3 1019.5,731.8 1027.5,707.2 1035.5,688.1 1043.5,675.4 1051.5,663.3 1059.5,650.0 1067.5,637.2 1075.5,629.3 1083.5,626.1 1091.5,622.3 1099.5,618.4 1107.5,605.3 1115.5,597.4 1123.5,583.3 1131.5,576.3 1139.5,569.3 1147.5,568.2 1155.5,582.7 1163.5,591.2 1171.5,597.1 1179.5,599.3 1187.5,598.0 1195.5,599.3 1203.5,600.2 1211.5,603.5 1219.5,605.0 1227.5,598.6 1235.5,593.5 1243.5,587.2 1251.5,583.3 1259.5,579.2 1267.5,572.1 1275.5,571.2 1283.5,573.1 1291.5,576.3 1299.5,579.2 1307.5,590.3 1315.5,602.2 1323.5,599.3 1331.5,590.3 1339.5,588.2 1347.5,600.2 1355.5,614.6 1363.5,630.3 1371.5,651.0 1379.5,663.3 1387.5,675.1 1395.5,679.3 1403.5,684.5 1411.5,685.4 1419.5,688.2 1427.5,689.6 1435.5,685.4 1443.5,682.1 1451.5,677.4 1459.5,659.5 1467.5,651.0 1475.5,645.7" fill="none" stroke="#C0C0C0" stroke-width="1"/>
<rect x="3" y="574" width="1" height="77" fill="#000080"/>
<rect x="11" y="575" width="1" height="76" fill="#000080"/>
<rect x="19" y="576" width="1" height="75" fill="#000080"/>
<rect x="27" y="580" width="1" height="71" fill="#000080"/>
<rect x="35" y="580" width="1" height="71" fill="#000080"/>
<rect x="43" y="581" width="1" height="70" fill="#000080"/>
<rect x="51" y="583" width="1" height="68" fill="#000080"/>
<rect x="59" y="585" width="1" height="66" fill="#000080"/>
<rect x="67" y="589" width="1" height="62" fill="#000080"/>
<rect x="75" y="590" width="1" height="61" fill="#000080"/>
<rect x="83" y="591" width="1" height="60" fill="#000080"/>
<rect x="91" y="591" width="1" height="60" fill="#000080"/>
<rect x="99" y="591" width="1" height="60" fill="#000080"/>
<rect x="107" y="591" width="1" height="60" fill="#000080"/>
<rect x="115" y="592" width="1" height="59" fill="#000080"/>
<rect x="123" y="601" width="1" height="50" fill="#000080"/>
<rect x="131" y="607" width="1" height="44" fill="#000080"/>
<rect x="139" y="614" width="1" height="37" fill="#000080"/>
<rect x="147" y="619" width="1" height="32" fill="#000080"/>
<rect x="155" y="618" width="1" height="33" fill="#000080"/>
<rect x="163" y="618" width="1" height="33" fill="#000080"/>
<rect x="171" y="621" width="1" height="30" fill="#000080"/>
<rect x="179" y="621" width="1" height="30" fill="#000080"/>
<rect x="187" y="621" width="1" height="30" fill="#000080"/>
<rect x="195" y="621" width="1" height="30" fill="#000080"/>
<rect x="203" y="623" width="1" height="28" fill="#000080"/>
<rect x="211" y="626" width="1" height="25" fill="#000080"/>
<rect x="219" y="624" width="1" height="27" fill="#000080"/>
<rect x="227" y="619" width="1" height="32" fill="#000080"/>
<rect x="235" y="613" width="1" height="38" fill="#000080"/>
<rect x="243" y="608" width="1" height="43" fill="#000080"/>
<rect x="251" y="606" width="1" height="45" fill="#000080"/>
<rect x="259" y="604" width="1" height="47" fill="#000080"/>
<rect x="267" y="601" width="1" height="50" fill="#000080"/>
<rect x="275" y="598" width="1" height="53" fill="#000080"/>
<rect x="283" y="597" width="1" height="54" fill="#000080"/>
<rect x="291" y="598" width="1" height="53" fill="#000080"/>
<rect x="299" y="600" width="1" height="51" fill="#000080"/>
<rect x="307" y="607" width="1" height="44" fill="#000080"/>
<rect x="315" y="615" width="1" height="36" fill="#000080"/>
<rect x="323" y="624" width="1" height="27" fill="#000080"/>
<rect x="331" y="629" width="1" height="22" fill="#000080"/>
<rect x="339" y="634" width="1" height="17" fill="#000080"/>
<rect x="347" y="642" width="1" height="9" fill="#000080"/>
<rect x="355" y="650" width="1" height="2" fill="#000080"/>
<rect x="363" y="650" width="1" height="5" fill="#000080"/>
<rect x="371" y="650" width="1" height="8" fill="#000080"/>
<rect x="379" y="650" width="1" height="16" fill="#000080"/>
<rect x="387" y="650" width="1" height="21" fill="#000080"/>
<rect x="395" y="650" width="1" height="29" fill="#000080"/>
<rect x="403" y="650" width="1" height="35" fill="#000080"/>
<rect x="411" y="650" width="1" height="34" fill="#000080"/>
<rect x="419" y="650" width="1" height="37" fill="#000080"/>
<rect x="427" y="650" width="1" height="35" fill="#000080"/>
<rect x="435" y="650" width="1" height="31" fill="#000080"/>
<rect x="443" y="650" width="1" height="24" fill="#000080"/>
<rect x="451" y="650" width="1" height="27" fill="#000080"/>
<rect x="459" y="650" width="1" height="30" fill="#000080"/>
<rect x="467" y="650" width="1" height="32" fill="#000080"/>
<rect x="475" y="650" width="1" height="35" fill="#000080"/>
<rect x="483" y="650" width="1" height="47" fill="#000080"/>
<rect x="491" y="650" width="1" height="55" fill="#000080"/>
<rect x="499" y="650" width="1" height="65" fill="#000080"/>
<rect x="507" y="650" width="1" height="81" fill="#000080"/>
<rect x="515" y="650" width="1" height="89" fill="#000080"/>
<rect x="523" y="650" width="1" height="91" fill="#000080"/>
<rect x="531" y="650" width="1" height="107" fill="#000080"/>
<rect x="539" y="650" width="1" height="123" fill="#000080"/>
<rect x="547" y="650" width="1" height="142" fill="#000080"/>
<rect x="555" y="650" width="1" height="139" fill="#000080"/>
<rect x="563" y="650" width="1" height="129" fill="#000080"/>
<rect x="571" y="650" width="1" height="130" fill="#000080"/>
<rect x="579" y="650" width="1" height="121" fill="#000080"/>
<rect x="587" y="650" width="1" height="121" fill="#000080"/>
<rect x="595" y="650" width="1" height="110" fill="#000080"/>
<rect x="603" y="650" width="1" height="95" fill="#000080"/>
<rect x="611" y="650" width="1" height="84" fill="#000080"/>
<rect x="619" y="650" width="1" height="70" fill="#000080"/>
<rect x="627" y="650" width="1" height="67" fill="#000080"/>
<rect x="635" y="650" width="1" height="65" fill="#000080"/>
<rect x="643" y="650" width="1" height="85" fill="#000080"/>
<rect x="651" y="650" width="1" height="105" fill="#000080"/>
<rect x="659" y="650" width="1" height="119" fill="#000080"/>
<rect x="667" y="650" width="1" height="136" fill="#000080"/>
<rect x="675" y="650" width="1" height="136" fill="#000080"/>
<rect x="683" y="650" width="1" height="128" fill="#000080"/>
<rect x="691" y="650" width="1" height="117" fill="#000080"/>
<rect x="699" y="650" width="1" height="111" fill="#000080"/>
<rect x="707" y="650" width="1" height="97" fill="#000080"/>
<rect x="715" y="650" width="1" height="85" fill="#000080"/>
<rect x="723" y="650" width="1" height="73" fill="#000080"/>
<rect x="731" y="650" width="1" height="63" fill="#000080"/>
<rect x="739" y="650" width="1" height="46" fill="#000080"/>
<rect x="747" y="650" width="1" height="26" fill="#000080"/>
<rect x="755" y="650" width="1" height="12" fill="#000080"/>
<rect x="763" y="650" width="1" height="4" fill="#000080"/>
<rect x="771" y="650" width="1" height="2" fill="#000080"/>
<rect x="779" y="642" width="1" height="9" fill="#000080"/>
<rect x="787" y="642" width="1" height="9" fill="#000080"/>
<rect x="795" y="650" width="1" height="1" fill="#000080"/>
<rect x="803" y="650" width="1" height="4" fill="#000080"/>
<rect x="811" y="650" width="1" height="3" fill="#000080"/>
<rect x="819" y="650" width="1" height="3" fill="#000080"/>
<rect x="827" y="650" width="1" height="12" fill="#000080"/>
<rect x="835" y="650" width="1" height="31" fill="#000080"/>
<rect x="843" y="650" width="1" height="55" fill="#000080"/>
<rect x="851" y="650" width="1" height="76" fill="#000080"/>
<rect x="859" y="650" width="1" height="96" fill="#000080"/>
<rect x="867" y="650" width="1" height="109" fill="#000080"/>
<rect x="875" y="650" width="1" height="113" fill="#000080"/>
<rect x="883" y="650" width="1" height="129" fill="#000080"/>
<rect x="891" y="650" width="1" height="142" fill="#000080"/>
<rect x="899" y="650" width="1" height="156" fill="#000080"/>
<rect x="907" y="650" width="1" height="158" fill="#000080"/>
<rect x="915" y="650" width="1" height="163" fill="#000080"/>
<rect x="923" y="650" width="1" height="158" fill="#000080"/>
<rect x="931" y="650" width="1" height="149" fill="#000080"/>
<rect x="939" y="650" width="1" height="132" fill="#000080"/>
<rect x="947" y="650" width="1" height="119" fill="#000080"/>
<rect x="955" y="650" width="1" height="115" fill="#000080"/>
<rect x="963" y="650" width="1" height="117" fill="#000080"/>
<rect x="971" y="650" width="1" height="104" fill="#000080"/>
<rect x="979" y="650" width="1" height="101" fill="#000080"/>
<rect x="987" y="650" width="1" height="108" fill="#000080"/>
<rect x="995" y="650" width="1" height="113" fill="#000080"/>
<rect x="1003" y="650" width="1" height="109" fill="#000080"/>
<rect x="1011" y="650" width="1" height="96" fill="#000080"/>
<rect x="1019" y="650" width="1" height="82" fill="#000080"/>
<rect x="1027" y="650" width="1" height="58" fill="#000080"/>
<rect x="1035" y="650" width="1" height="39" fill="#000080"/>
<rect x="1043" y="650" width="1" height="26" fill="#000080"/>
<rect x="1051" y="650" width="1" height="14" fill="#000080"/>
<rect x="1059" y="650" width="1" height="1" fill="#000080"/>
<rect x="1067" y="637" width="1" height="14" fill="#000080"/>
<rect x="1075" y="629" width="1" height="22" fill="#000080"/>
<rect x="1083" y="626" width="1" height="25" fill="#000080"/>
<rect x="1091" y="622" width="1" height="29" fill="#000080"/>
<rect x="1099" y="618" width="1" height="33" fill="#000080"/>
<rect x="1107" y="605" width="1" height="46" fill="#000080"/>
<rect x="1115" y="597" width="1" height="54" fill="#000080"/>
<rect x="1123" y="583" width="1" height="68" fill="#000080"/>
<rect x="1131" y="576" width="1" height="75" fill="#000080"/>
<rect x="1139" y="569" width="1" height="82" fill="#000080"/>
<rect x="1147" y="568" width="1" height="83" fill="#000080"/>
<rect x="1155" y="582" width="1" height="69" fill="#000080"/>
<rect x="1163" y="591" width="1" height="60" fill="#000080"/>
<rect x="1171" y="597" width="1" height="54" fill="#000080"/>
<rect x="1179" y="599" width="1" height="52" fill="#000080"/>
<rect x="1187" y="598" width="1" height="53" fill="#000080"/>
<rect x="1195" y="599" width="1" height="52" fill="#000080"/>
<rect x="1203" y="600" width="1" height="51" fill="#000080"/>
<rect x="1211" y="603" width="1" height="48" fill="#000080"/>
<rect x="1219" y="605" width="1" height="46" fill="#000080"/>
<rect x="1227" y="598" width="1" height="53" fill="#000080"/>
<rect x="1235" y="593" width="1" height="58" fill="#000080"/>
<rect x="1243" y="587" width="1" height="64" fill="#000080"/>
<rect x="1251" y="583" width="1" height="68" fill="#000080"/>
<rect x="1259" y="579" width="1" height="72" fill="#000080"/>
<rect x="1267" y="572" width="1" height="79" fill="#000080"/>
<rect x="1275" y="571" width="1" height="80" fill="#000080"/>
<rect x="1283" y="573" width="1" height="78" fill="#000080"/>
<rect x="1291" y="576" width="1" height="75" fill="#000080"/>
<rect x="1299" y="579" width="1" height="72" fill="#000080"/>
<rect x="1307" y="590" width="1" height="61" fill="#000080"/>
<rect x="1315" y="602" width="1" height="49" fill="#000080"/>
<rect x="1323" y="599" width="1" height="52" fill="#000080"/>
<rect x="1331" y="590" width="1" height="61" fill="#000080"/>
<rect x="1339" y="588" width="1" height="63" fill="#000080"/>
<rect x="1347" y="600" width="1" height="51" fill="#000080"/>
<rect x="1355" y="614" width="1" height="37" fill="#000080"/>
<rect x="1363" y="630" width="1" height="21" fill="#000080"/>
<rect x="1371" y="650" width="1" height="2" fill="#000080"/>
<rect x="1379" y="650" width="1" height="14" fill="#000080"/>
<rect x="1387" y="650" width="1" height="26" fill="#000080"/>
<rect x="1395" y="650" width="1" height="30" fill="#000080"/>
<rect x="1403" y="650" width="1" height="35" fill="#000080"/>
<rect x="1411" y="650" width="1" height="36" fill="#000080"/>
<rect x="1419" y="650" width="1" height="39" fill="#000080"/>
<rect x="1427" y="650" width="1" height="40" fill="#000080"/>
<rect x="1435" y="650" width="1" height="36" fill="#000080"/>
<rect x="1443" y="650" width="1" height="33" fill="#000080"/>
<rect x="1451" y="650" width="1" height="28" fill="#000080"/>
<rect x="1459" y="650" width="1" height="10" fill="#000080"/>
<rect x="1467" y="650" width="1" height="2" fill="#000080"/>
<rect x="1475" y="645" width="1" height="6" fill="#000080"/>
<polyline points="3.5,580.6 11.5,578.6 19.5,577.3 27.5,577.5 51.5,577.5 55.5,577.8 67.5,581.1 91.5,586.0 107.5,587.7 123.5,591.0 131.5,594.3 147.5,600.0 163.5,605.8 179.5,611.5 187.5,615.7 200.5,619.0 203.5,619.1 211.5,620.7 227.5,621.6 243.5,619.6 259.5,616.6 275.5,612.5 291.5,606.4 299.5,603.5 307.5,601.8 323.5,604.3 339.5,609.2 347.5,614.2 363.5,629.0 379.5,641.3 390.5,649.2 395.5,651.5 411.5,665.5 427.5,673.5 443.5,678.1 459.5,680.5 475.5,682.1 491.5,684.5 507.5,692.5 523.5,706.5 539.5,726.5 555.5,749.5 571.5,763.5 580.5,769.5 595.5,774.5 603.5,773.5 611.5,768.5 627.5,750.5 643.5,740.5 651.5,738.5 659.5,738.9 675.5,744.5 691.5,754.5 699.5,760.1 707.5,764.1 715.5,764.5 731.5,757.5 739.5,748.5 749.5,729.5 771.5,695.7 787.5,673.5 797.5,663.1 798.5,662.3 803.5,658.5 811.5,653.8 819.5,650.9 827.5,650.9 835.5,654.1 840.5,656.7 851.5,670.8 867.5,693.6 883.5,719.7 899.5,751.3 915.5,778.5 931.5,792.6 947.5,795.5 960.5,792.6 963.5,791.5 979.5,778.8 995.5,767.8 1011.5,757.6 1019.5,754.4 1027.5,748.1 1035.5,738.5 1043.5,729.0 1051.5,719.5 1059.5,708.9 1067.5,694.1 1075.5,679.2 1083.5,667.6 1087.5,659.9 1099.5,645.9 1107.5,637.0 1115.5,628.0 1123.5,619.1 1131.5,610.1 1139.5,603.1 1147.5,596.1 1155.5,591.0 1163.5,587.2 1171.5,584.9 1187.5,584.9 1195.5,586.1 1203.5,589.1 1211.5,592.3 1219.5,596.7 1227.5,598.6 1235.5,598.9 1243.5,598.0 1250.5,596.1 1259.5,594.2 1267.5,591.0 1283.5,585.6 1299.5,579.2 1307.5,578.9 1315.5,580.8 1331.5,583.3 1339.5,585.2 1355.5,592.9 1363.5,598.0 1379.5,613.3 1385.5,620.5 1395.5,631.0 1403.5,641.3 1411.5,651.8 1419.5,662.0 1427.5,671.8 1435.5,676.9 1443.5,681.5 1451.5,683.7 1459.5,681.6 1467.5,678.4 1475.5,674.9" fill="none" stroke="#000" stroke-width="1"/></g>
<rect x="2" y="2" width="1494" height="1" fill="#000"/>
<rect x="2" y="2" width="1" height="550" fill="#000"/>
<rect x="1495" y="2" width="1" height="550" fill="#000"/>
<rect x="2" y="551" width="1494" height="1" fill="#000"/>
<rect x="2" y="553" width="1494" height="1" fill="#000"/>
<rect x="2" y="553" width="1" height="274" fill="#000"/>
<rect x="1495" y="553" width="1" height="274" fill="#000"/>
<rect x="2" y="826" width="1494" height="1" fill="#000"/>
<rect x="1496" y="42" width="2" height="1" fill="#000"/><rect x="1496" y="91" width="2" height="1" fill="#000"/><rect x="1496" y="140" width="2" height="1" fill="#000"/><rect x="1496" y="189" width="2" height="1" fill="#000"/><rect x="1496" y="238" width="2" height="1" fill="#000"/><rect x="1496" y="287" width="2" height="1" fill="#000"/><rect x="1496" y="336" width="2" height="1" fill="#000"/><rect x="1496" y="385" width="2" height="1" fill="#000"/><rect x="1496" y="434" width="2" height="1" fill="#000"/><rect x="1496" y="483" width="2" height="1" fill="#000"/><rect x="1496" y="532" width="2" height="1" fill="#000"/>
<rect x="1496" y="555" width="2" height="1" fill="#000"/>
<rect x="1496" y="650" width="2" height="1" fill="#000"/>
<rect x="1496" y="826" width="2" height="1" fill="#000"/>
<rect x="3" y="827" width="1" height="3" fill="#000"/><rect x="99" y="827" width="1" height="3" fill="#000"/><rect x="195" y="827" width="1" height="3" fill="#000"/><rect x="291" y="827" width="1" height="3" fill="#000"/><rect x="387" y="827" width="1" height="3" fill="#000"/><rect x="483" y="827" width="1" height="3" fill="#000"/><rect x="579" y="827" width="1" height="3" fill="#000"/><rect x="675" y="827" width="1" height="3" fill="#000"/><rect x="771" y="827" width="1" height="3" fill="#000"/><rect x="867" y="827" width="1" height="3" fill="#000"/><rect x="963" y="827" width="1" height="3" fill="#000"/><rect x="1059" y="827" width="1" height="3" fill="#000"/><rect x="1155" y="827" width="1" height="3" fill="#000"/><rect x="1251" y="827" width="1" height="3" fill="#000"/><rect x="1347" y="827" width="1" height="3" fill="#000"/><rect x="1443" y="827" width="1" height="3" fill="#000"/>
<polygon points="6,10 15,10 10.5,15" fill="#000" shape-rendering="geometricPrecision"/>
</svg>
<div class="pl" style="top:36px">13856.00</div><div class="pl" style="top:85px">13694.30</div><div class="pl" style="top:134px">13529.30</div><div class="pl" style="top:183px">13367.60</div><div class="pl" style="top:232px">13202.60</div><div class="pl" style="top:281px">13040.90</div><div class="pl" style="top:330px">12875.90</div><div class="pl" style="top:379px">12714.20</div><div class="pl" style="top:428px">12552.50</div><div class="pl" style="top:477px">12387.50</div><div class="pl" style="top:526px">12225.80</div>
<div class="rl" style="top:201px">13305.89</div><div class="rl" style="top:309px">12947.37</div><div class="rl" style="top:366px">12757.95</div><div class="rl" style="top:534px">12197.03</div>
<div class="bl" style="top:274px">13060.31</div>
<div class="ax" style="top:557px">112.178</div>
<div class="ax" style="top:644px">0.00</div>
<div class="ax" style="top:812px;left:1499px">-205.97</div>
<div class="tl" style="left:2px">8 Feb 2021</div><div class="tl" style="left:98px">10 Feb 04:00</div><div class="tl" style="left:194px">12 Feb 04:00</div><div class="tl" style="left:290px">16 Feb 08:00</div><div class="tl" style="left:386px">18 Feb 08:00</div><div class="tl" style="left:482px">22 Feb 08:00</div><div class="tl" style="left:578px">24 Feb 08:00</div><div class="tl" style="left:674px">26 Feb 08:00</div><div class="tl" style="left:770px">2 Mar 08:00</div><div class="tl" style="left:866px">4 Mar 08:00</div><div class="tl" style="left:962px">8 Mar 08:00</div><div class="tl" style="left:1058px">10 Mar 08:00</div><div class="tl" style="left:1154px">12 Mar 08:00</div><div class="tl" style="left:1250px">16 Mar 08:00</div><div class="tl" style="left:1346px">18 Mar 08:00</div><div class="tl" style="left:1442px">22 Mar 08:00</div>
<div class="hdr">NQ,H4  13066.56 13103.31 13059.41 13060.31</div>
<div class="ml">MACD(12,26,9) 7.338 -27.583  -&gt;MA(1) 7.338</div>
</body></html>
